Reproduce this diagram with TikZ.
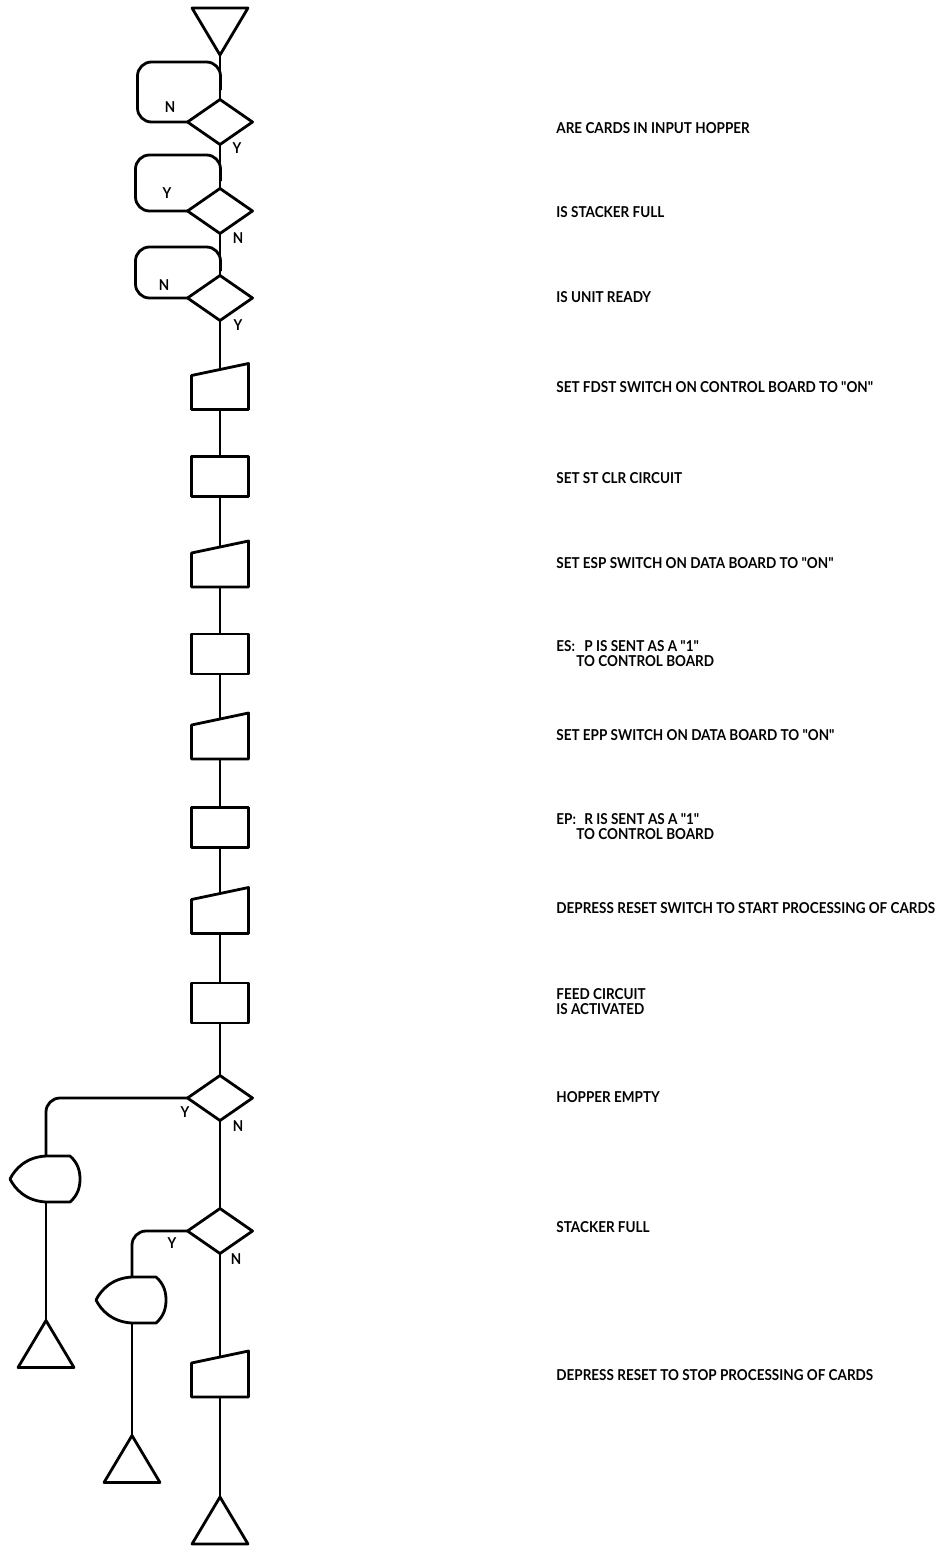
\documentclass[tikz,border=0pt]{standalone}
\usepackage{fontspec}
\setmainfont{Lato}[FakeStretch=0.9,Ligatures=TeXOff]
\usetikzlibrary{shapes.geometric,calc}
\newcommand\trapdraw[1]{\draw (#1.south west) -- (#1.south east) -- (#1.north east) -- ([yshift=-6pt]#1.north west) -- cycle;}
\newcommand\delaydraw[1]{\draw[shift={(#1.center)}] (0,-23) -- (24,-23) .. controls (32,-16) and (34,-8) .. (34,0) .. controls (34,8) and (32,16) .. (24,23) -- (0,23) .. controls (-20,22) and (-31,10) .. (-36,0) .. controls (-31,-10) and (-20,-22) .. (0,-23) -- cycle;}
\newcommand\qq{\symbol{34}}
\begin{document}
\begin{tikzpicture}[x=0.5pt,y=-0.5pt,
  line width=1.4pt, line join=round,
  every node/.style={font=\fontsize{7.5}{7.5}\selectfont\bfseries},
  lbl/.style={anchor=west,align=left,inner sep=0},
  yn/.style={inner sep=0},
  dec/.style={shape=diamond,draw,inner sep=0,outer sep=0,minimum width=32.5pt,minimum height=22.5pt},
  boxn/.style={rectangle,inner sep=0,outer sep=0,minimum width=28.5pt},
  rectbox/.style={boxn,draw,minimum height=20pt},
  trapbox/.style={boxn,minimum height=23pt},
  tribox/.style={rectangle,inner sep=0,outer sep=0,minimum width=28pt,minimum height=23.5pt},
  delaybox/.style={rectangle,inner sep=0,outer sep=0,minimum width=36pt,minimum height=23pt},
  loop/.style={rounded corners=7pt}
]
\fill[white] (0,0) rectangle (940,1553);
\useasboundingbox (0,0) rectangle (940,1553);

% start triangle
\node[tribox] (tri0) at (220,31.5) {};
\draw (tri0.north west) -- (tri0.north east) -- (tri0.south) -- cycle;

% decisions
\node[dec] (d1) at (220,122) {};
\node[dec] (d2) at (220,211) {};
\node[dec] (d3) at (220,298) {};

% process chain
\node[trapbox] (p1) at (220,386.5) {};
\node[rectbox] (r1) at (220,476.5) {};
\node[trapbox] (p2) at (220,564) {};
\node[rectbox] (r2) at (220,654) {};
\node[trapbox] (p3) at (220,736) {};
\node[rectbox] (r3) at (220,827.5) {};
\node[trapbox] (p4) at (220,910.5) {};
\node[rectbox] (r4) at (220,1003) {};
\trapdraw{p1}
\trapdraw{p2}
\trapdraw{p3}
\trapdraw{p4}

\node[dec] (d4) at (220,1098) {};
\node[dec] (d5) at (220,1231) {};
\node[trapbox] (p5) at (220,1374) {};
\trapdraw{p5}

\node[tribox] (triE) at (220,1520.5) {};
\draw (triE.south west) -- (triE.south east) -- (triE.north) -- cycle;

% left branches
\node[delaybox] (dl1) at (46,1179) {};
\delaydraw{dl1}
\node[tribox] (tri1) at (46,1344) {};
\draw (tri1.south west) -- (tri1.south east) -- (tri1.north) -- cycle;
\node[delaybox] (dl2) at (132,1300) {};
\delaydraw{dl2}
\node[tribox] (tri2) at (132,1459) {};
\draw (tri2.south west) -- (tri2.south east) -- (tri2.north) -- cycle;

% connectors
\draw (tri0.south) -- (d1.north);
\draw (d1.south) -- (d2.north);
\draw (d2.south) -- (d3.north);
\draw (d3.south) -- ([yshift=-3pt]p1.north);
\draw (p1.south) -- (r1.north);
\draw (r1.south) -- ([yshift=-3pt]p2.north);
\draw (p2.south) -- (r2.north);
\draw (r2.south) -- ([yshift=-3pt]p3.north);
\draw (p3.south) -- (r3.north);
\draw (r3.south) -- ([yshift=-3pt]p4.north);
\draw (p4.south) -- (r4.north);
\draw (r4.south) -- (d4.north);
\draw (d4.south) -- (d5.north);
\draw (d5.south) -- ([yshift=-3pt]p5.north);
\draw (p5.south) -- (triE.north);
\draw[loop] (d4.west) -| (dl1.north);
\draw (dl1.south) -- (tri1.north);
\draw[loop] (d5.west) -| (dl2.north);
\draw (dl2.south) -- (tri2.north);

% loops back
\draw[loop] (d1.west) -- ++(-50,0) -- ++(0,-60) -- ++(83,0) -- ++(0,28);
\draw[loop] (d2.west) -- ++(-52,0) -- ++(0,-56) -- ++(85,0) -- ++(0,26);
\draw[loop] (d3.west) -- ++(-52,0) -- ++(0,-51) -- ++(85,0) -- ++(0,24);

% Y / N labels
\node[yn] (l1n) at (170,107) {N};
\node[yn] (l1y) at (237,148) {Y};
\node[yn] (l2y) at (167,193) {Y};
\node[yn] (l2n) at (238,238) {N};
\node[yn] (l3n) at (164,285) {N};
\node[yn] (l3y) at (238,325) {Y};
\node[yn] (l4y) at (185,1112) {Y};
\node[yn] (l4n) at (238,1126) {N};
\node[yn] (l5y) at (172,1243) {Y};
\node[yn] (l5n) at (236,1259) {N};

% descriptions
\node[lbl] (t1) at (555,128) {ARE CARDS IN INPUT HOPPER};
\node[lbl] (t2) at (555,212) {IS STACKER FULL};
\node[lbl] (t3) at (555,297) {IS UNIT READY};
\node[lbl] (t4) at (555,387) {SET FDST SWITCH ON CONTROL BOARD TO \qq ON\qq};
\node[lbl] (t5) at (555,478) {SET ST CLR CIRCUIT};
\node[lbl] (t6) at (555,563) {SET ESP SWITCH ON DATA BOARD TO \qq ON\qq};
\node[lbl] (t7) at (555,654) {\makebox[14pt][l]{ES:}P IS SENT AS A \qq 1\qq\\\hspace{10pt}TO CONTROL BOARD};
\node[lbl] (t8) at (555,735) {SET EPP SWITCH ON DATA BOARD TO \qq ON\qq};
\node[lbl] (t9) at (555,827) {\makebox[14pt][l]{EP:}R IS SENT AS A \qq 1\qq\\\hspace{10pt}TO CONTROL BOARD};
\node[lbl] (t10) at (555,908) {DEPRESS RESET SWITCH TO START PROCESSING OF CARDS};
\node[lbl] (t11) at (555,1002) {FEED CIRCUIT\\IS ACTIVATED};
\node[lbl] (t12) at (555,1097) {HOPPER EMPTY};
\node[lbl] (t13) at (555,1227) {STACKER FULL};
\node[lbl] (t14) at (555,1375) {DEPRESS RESET TO STOP PROCESSING OF CARDS};
\end{tikzpicture}
\end{document}
